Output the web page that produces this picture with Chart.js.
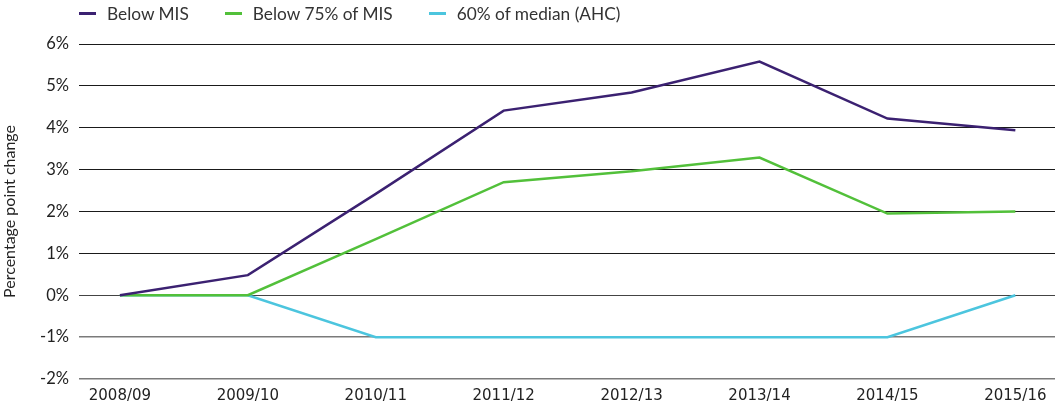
<!DOCTYPE html>
<html>
<head>
<meta charset="utf-8">
<script src="https://cdn.jsdelivr.net/npm/chart.js@4/dist/chart.umd.min.js"></script>
<style>
  html, body { margin: 0; padding: 0; background: #fff; }
  #wrap { position: relative; width: 1055px; height: 405px; }
  #chart { display: block; }
  #legend {
    position: absolute; left: 79px; top: 1px; height: 24px;
    display: flex; align-items: center;
    font-family: Lato, sans-serif; font-size: 17.3px; color: #333;
  }
  #legend .item { display: flex; align-items: center; margin-right: 36px; }
  #legend .mark { width: 17px; height: 3px; margin-right: 11px; }
</style>
</head>
<body>
<div id="wrap">
  <div id="legend"></div>
  <canvas id="chart" width="1055" height="405"></canvas>
</div>
<script>
/* ── Dados ─────────────────────────────────────────────── */
const years = ['2008/09', '2009/10', '2010/11', '2011/12', '2012/13', '2013/14', '2014/15', '2015/16'];
const belowMIS = [0, 0.48, 2.42, 4.41, 4.84, 5.58, 4.22, 3.94];
const below75MIS = [0, 0, 1.34, 2.70, 2.96, 3.29, 1.95, 2.00];
const median60AHC = [0, 0, -1, -1, -1, -1, -1, 0];
const seriesNames = ['Below MIS', 'Below 75% of MIS', '60% of median (AHC)'];
const yTicks = [-2, -1, 0, 1, 2, 3, 4, 5, 6];

const colors = ['#3b2171', '#52c03a', '#4cc5de'];

// Legenda em HTML
const legendEl = document.getElementById('legend');
seriesNames.forEach((name, i) => {
  const item = document.createElement('div');
  item.className = 'item';
  const mark = document.createElement('span');
  mark.className = 'mark';
  mark.style.background = colors[i];
  const txt = document.createElement('span');
  txt.textContent = name;
  item.appendChild(mark);
  item.appendChild(txt);
  legendEl.appendChild(item);
});

const toPoints = arr => arr.map((v, i) => ({ x: i, y: v }));
const allSeries = [belowMIS, below75MIS, median60AHC];

const ctx = document.getElementById('chart').getContext('2d');
new Chart(ctx, {
  type: 'line',
  data: {
    datasets: allSeries.map((s, i) => ({
      label: seriesNames[i],
      data: toPoints(s),
      borderColor: colors[i],
      borderWidth: 2.5,
      pointRadius: 0,
      tension: 0,
      fill: false
    }))
  },
  options: {
    responsive: false,
    animation: false,
    layout: { padding: { top: 44, right: 0, bottom: 0, left: 0 } },
    plugins: { legend: { display: false }, tooltip: { enabled: false } },
    scales: {
      x: {
        type: 'linear',
        min: -0.32,
        max: 7.31,
        afterBuildTicks: scale => { scale.ticks = years.map((_, i) => ({ value: i })); },
        afterFit: scale => { scale.height = 26; },
        grid: { display: false, drawTicks: false },
        border: { display: false },
        ticks: {
          autoSkip: false,
          maxRotation: 0,
          padding: 8,
          color: '#222',
          font: { family: "'DejaVu Sans', sans-serif", size: 15 },
          callback: v => years[v] ?? ''
        }
      },
      y: {
        min: -2,
        max: 6,
        afterBuildTicks: scale => { scale.ticks = yTicks.map(v => ({ value: v })); },
        afterFit: scale => { scale.width = 79; },
        border: { display: false },
        grid: {
          drawTicks: false,
          color: c => c.tick.value > 0 ? '#1a1a1a' : (c.tick.value === 0 ? '#444' : '#7a7a7a'),
          lineWidth: c => c.tick.value < 0 ? 1.5 : 1
        },
        ticks: {
          padding: 10,
          color: '#222',
          font: { family: 'Lato, sans-serif', size: 16.5 },
          callback: v => v + '%'
        },
        title: {
          display: true,
          text: 'Percentage point change',
          color: '#222',
          font: { family: 'Lato, sans-serif', size: 16 },
          padding: { top: 0, bottom: 0 }
        }
      }
    }
  }
});
</script>
</body>
</html>
